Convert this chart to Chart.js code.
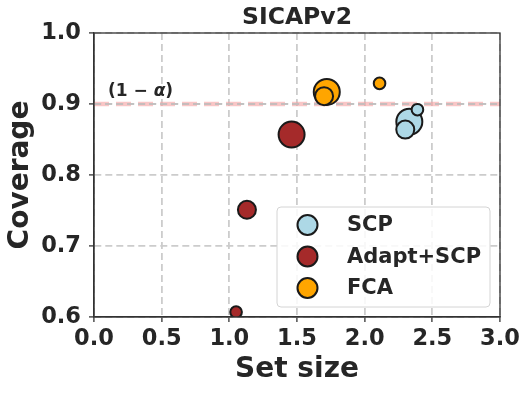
<!DOCTYPE html>
<html>
<head>
<meta charset="utf-8">
<script src="https://cdn.jsdelivr.net/npm/chart.js@4"></script>
<style>
  body { margin: 0; background: #fff; }
  #wrap { width: 531px; height: 393px; }
</style>
</head>
<body>
<div id="wrap"><canvas id="myChart" width="531" height="393"></canvas></div>
<script>
// values
const methods = ['SCP', 'Adapt+SCP', 'FCA'];
const scpSetSize = [2.33, 2.30, 2.39];
const scpCoverage = [0.875, 0.864, 0.892];
const adaptSetSize = [1.46, 1.13, 1.05];
const adaptCoverage = [0.857, 0.751, 0.607];
const fcaSetSize = [1.72, 1.70, 2.11];
const fcaCoverage = [0.917, 0.911, 0.929];
// marker size level (3 = largest) for each point, same order as above
const sizeLevel = [3, 2, 1];
const targetCoverage = 0.9;
const xTicks = [0, 0.5, 1.0, 1.5, 2.0, 2.5, 3.0];
const yTicks = [0.6, 0.7, 0.8, 0.9, 1.0];

const colors = ['#add8e6', '#a52a2a', '#ffa500'];
const edge = '#1a1a1a';
const textColor = '#262626';
const fontFamily = '"DejaVu Sans", sans-serif';
const radiusFor = { 1: 5.8, 2: 9, 3: 13 };

function makePoints(xs, ys) {
    const pts = [];
    for (let i = 0; i < xs.length; i++) {
        pts.push({ x: xs[i], y: ys[i] });
    }
    return pts;
}

const allX = [scpSetSize, adaptSetSize, fcaSetSize];
const allY = [scpCoverage, adaptCoverage, fcaCoverage];

const datasets = methods.map((name, i) => ({
    label: name,
    data: makePoints(allX[i], allY[i]),
    backgroundColor: colors[i],
    borderColor: edge,
    borderWidth: 2,
    pointRadius: sizeLevel.map(s => radiusFor[s]),
    pointHoverRadius: sizeLevel.map(s => radiusFor[s])
}));

// frame, threshold line, title, annotation and legend
const extras = {
    id: 'extras',
    beforeDatasetsDraw(chart) {
        const ctx = chart.ctx;
        const area = chart.chartArea;
        const yy = chart.scales.y.getPixelForValue(targetCoverage);
        ctx.save();
        ctx.strokeStyle = 'rgba(245, 160, 160, 0.6)';
        ctx.lineWidth = 4.5;
        ctx.setLineDash([15, 7]);
        ctx.beginPath();
        ctx.moveTo(area.left, yy);
        ctx.lineTo(area.right, yy);
        ctx.stroke();
        ctx.strokeStyle = 'rgba(190,190,190,0.8)';
        ctx.lineWidth = 1.8;
        ctx.setLineDash([7, 4]);
        ctx.beginPath();
        ctx.moveTo(area.left, yy);
        ctx.lineTo(area.right, yy);
        ctx.stroke();
        ctx.restore();
    },
    afterDatasetsDraw(chart) {
        const ctx = chart.ctx;
        const area = chart.chartArea;
        ctx.save();
        ctx.strokeStyle = '#333333';
        ctx.lineWidth = 1.3;
        ctx.strokeRect(area.left, area.top, area.right - area.left, area.bottom - area.top);

        // title
        ctx.fillStyle = textColor;
        ctx.font = 'bold 23.5px ' + fontFamily;
        ctx.textAlign = 'center';
        ctx.textBaseline = 'alphabetic';
        ctx.fillText('SICAPv2', (area.left + area.right) / 2, 24);

        // (1 - alpha) label
        ctx.textAlign = 'left';
        let tx = 108;
        const ty = 96;
        ctx.font = 'bold 17px ' + fontFamily;
        ctx.fillText('(1 \u2212 ', tx, ty);
        tx += ctx.measureText('(1 \u2212 ').width;
        ctx.font = 'italic bold 17px ' + fontFamily;
        ctx.fillText('\u03b1', tx, ty);
        tx += ctx.measureText('\u03b1').width;
        ctx.font = 'bold 17px ' + fontFamily;
        ctx.fillText(')', tx, ty);

        // legend
        const lx = 277, ly = 207, lw = 213, lh = 100;
        ctx.fillStyle = 'rgba(255,255,255,0.85)';
        ctx.strokeStyle = '#d4d4d4';
        ctx.lineWidth = 1;
        ctx.beginPath();
        ctx.roundRect(lx, ly, lw, lh, 4);
        ctx.fill();
        ctx.stroke();
        ctx.font = 'bold 21px ' + fontFamily;
        ctx.textBaseline = 'middle';
        for (let i = 0; i < methods.length; i++) {
            const ry = 225 + i * 31.5;
            ctx.beginPath();
            ctx.arc(307.5, ry, 10, 0, Math.PI * 2);
            ctx.fillStyle = colors[i];
            ctx.fill();
            ctx.strokeStyle = edge;
            ctx.lineWidth = 2;
            ctx.stroke();
            ctx.fillStyle = textColor;
            ctx.fillText(methods[i], 347, ry + 1);
        }
        ctx.restore();
    }
};

const gridStyle = {
    color: '#cccccc',
    lineWidth: 1.8,
    tickColor: '#333333',
    tickLength: 5,
    tickBorderDash: [],
    tickWidth: 1.3
};
const borderStyle = { display: true, color: '#333333', width: 1.3, dash: [7, 4] };

const ctx = document.getElementById('myChart').getContext('2d');
const myChart = new Chart(ctx, {
    type: 'scatter',
    data: { datasets: datasets },
    options: {
        responsive: false,
        animation: false,
        layout: { padding: { top: 33, right: 31, left: 0, bottom: 0 } },
        plugins: {
            legend: { display: false },
            tooltip: { enabled: false },
            title: { display: false }
        },
        scales: {
            x: {
                type: 'linear',
                min: 0,
                max: 3,
                afterBuildTicks: s => { s.ticks = xTicks.map(v => ({ value: v })); },
                afterFit: s => { s.height = 76; },
                grid: gridStyle,
                border: borderStyle,
                ticks: {
                    color: textColor,
                    padding: 4,
                    maxRotation: 0,
                    font: { family: fontFamily, size: 22.5, weight: 'bold' },
                    callback: v => v.toFixed(1)
                },
                title: {
                    display: true,
                    text: 'Set size',
                    color: textColor,
                    padding: { top: 0, bottom: 6 },
                    font: { family: fontFamily, size: 28, weight: 'bold' }
                }
            },
            y: {
                type: 'linear',
                min: 0.6,
                max: 1.0,
                afterBuildTicks: s => { s.ticks = yTicks.map(v => ({ value: v })); },
                afterFit: s => { s.width = 94; },
                grid: gridStyle,
                border: borderStyle,
                ticks: {
                    color: textColor,
                    padding: 8,
                    font: { family: fontFamily, size: 22.5, weight: 'bold' },
                    callback: v => v.toFixed(1)
                },
                title: {
                    display: true,
                    text: 'Coverage',
                    color: textColor,
                    padding: { top: 4, bottom: 0 },
                    font: { family: fontFamily, size: 28, weight: 'bold' }
                }
            }
        }
    },
    plugins: [extras]
});
</script>
</body>
</html>
